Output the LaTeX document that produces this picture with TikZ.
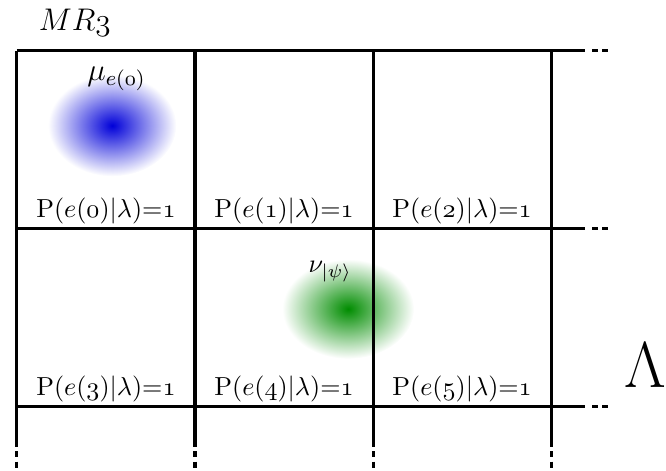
\documentclass[tikz,border=0pt]{standalone}
\usepackage{amsmath}
\begin{document}
\begin{tikzpicture}[scale=1.2]
	\tikzset{wall/.style={line width=1.2pt}, more/.style={line width=1.2pt, dash pattern=on 2.3pt off 1.6pt}}
	\useasboundingbox (-0.19,-0.71) rectangle (7.29,4.57);
	
	% blobs
	\shade[inner color=blue!85!black, outer color=white] (1.07,3.16) ellipse (0.72 and 0.57);
	\shade[inner color=green!55!black, outer color=white] (3.72,1.10) ellipse (0.74 and 0.56);
	
	\foreach \y in {0,2,4}{
	\draw[wall] (0,\y) -- (6.38,\y);
	\draw[more] (6.46,\y) -- (6.68,\y);
	}
	\foreach \x in {0,2,4,6}{
	\draw[wall] (\x,4) -- (\x,-0.45);
	\draw[more] (\x,-0.50) -- (\x,-0.71);
	}
	
	\foreach \i/\x/\y in {0/1/2, 1/3/2, 2/5/2, 3/1/0, 4/3/0, 5/5/0}
	\node[above, inner sep=1.5pt] (p\i) at (\x,\y) {$\mathrm{P}(e(\mathnormal{\i})|\lambda){=}\mathnormal{1}$};
	
	\node (mr) at (0.65,4.31) {\large$MR\mathnormal{3}$};
	\node (mu) at (1.12,3.68) {\large$\mu_{e(\mathnormal{0})}$};
	\node (nu) at (3.52,1.52) {$\nu_{|\psi\rangle}$};
	\node (lam) at (7.06,0.47) {\Huge$\Lambda$};
\end{tikzpicture}
\end{document}
